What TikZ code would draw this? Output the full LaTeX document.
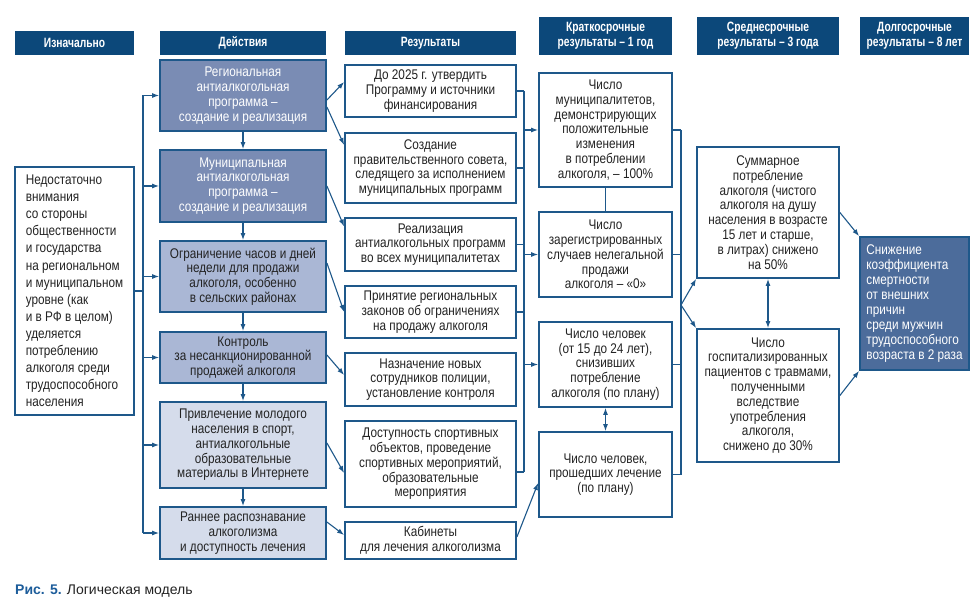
\documentclass[tikz,border=0pt]{standalone}
\usepackage{fontspec}
\setmainfont{Liberation Sans}[FakeStretch=0.84]
\newfontfamily\hdrfam{Liberation Sans}[FakeStretch=0.76]
\newfontfamily\capfam{Liberation Sans}
\usetikzlibrary{arrows.meta,calc}
\definecolor{hdrblue}{RGB}{12,72,122}
\definecolor{bdr}{RGB}{30,88,138}
\definecolor{acta}{RGB}{122,140,180}
\definecolor{actb}{RGB}{170,183,213}
\definecolor{actc}{RGB}{213,220,235}
\definecolor{ltblue}{RGB}{76,108,155}
\definecolor{txt}{RGB}{35,35,35}
\definecolor{capblue}{RGB}{29,93,155}
\newcommand\bodyfont{\fontsize{14}{14.8}\selectfont}
\newcommand\leftfont{\fontsize{14}{17.1}\selectfont}
\newcommand\ltfont{\fontsize{14}{15}\selectfont}
\newcommand\hdrfont{\hdrfam\bfseries\fontsize{13.5}{14.7}\selectfont}
\newcommand\mybox[7]{\node[#1, minimum width={(#5)-(#3)}, minimum height={(#6)-(#4)}] (#2) at ({((#3)+(#5))/2},{((#4)+(#6))/2}) {#7};}
\tikzset{
 base/.style={draw=bdr, line width=1.8pt, align=center, inner sep=0pt, text=txt, font=\bodyfont},
 wbox/.style={base, fill=white},
 abox/.style={base, fill=acta, text=white},
 bbox/.style={base, fill=actb},
 cbox/.style={base, fill=actc},
 ltbox/.style={base, fill=ltblue, text=white, align=left, font=\ltfont},
 lbox/.style={base, fill=white, align=left, font=\leftfont},
 hdr/.style={fill=hdrblue, text=white, align=center, inner sep=0pt, font=\hdrfont},
 conn/.style={draw=bdr, line width=1.1pt},
 arr/.style={conn, -{Latex[length=7pt,width=5pt]}},
 darr/.style={conn, {Latex[length=7pt,width=5pt]}-{Latex[length=7pt,width=5pt]}},
}
\begin{document}
\begin{tikzpicture}[x=1pt,y=-1pt]
\fill[white] (0,0) rectangle (980,609);
\useasboundingbox (0,0) rectangle (980,609);
% headers
\mybox{hdr}{h1}{15}{31}{134}{55}{Изначально}
\mybox{hdr}{h2}{160}{31}{326}{55}{Действия}
\mybox{hdr}{h3}{345}{31}{516}{55}{Результаты}
\mybox{hdr}{h4}{539}{17}{672}{55}{Краткосрочные\\результаты – 1 год}
\mybox{hdr}{h5}{697}{17}{839}{55}{Среднесрочные\\результаты – 3 года}
\mybox{hdr}{h6}{860}{17}{969}{55}{Долгосрочные\\результаты – 8 лет}
% left
\mybox{lbox}{L}{15}{167}{134}{415}{Недостаточно\\внимания\\со стороны\\общественности\\и государства\\на региональном\\и муниципальном\\уровне (как\\и в РФ в целом)\\уделяется\\потреблению\\алкоголя среди\\трудоспособного\\населения}
% actions
\mybox{abox}{a1}{160}{60}{326}{131}{Региональная\\антиалкогольная\\программа –\\создание и реализация}
\mybox{abox}{a2}{160}{150}{326}{222}{Муниципальная\\антиалкогольная\\программа –\\создание и реализация}
\mybox{bbox}{a3}{160}{241}{326}{312}{Ограничение часов и дней\\недели для продажи\\алкоголя, особенно\\в сельских районах}
\mybox{bbox}{a4}{160}{332}{326}{383}{Контроль\\за несанкционированной\\продажей алкоголя}
\mybox{cbox}{a5}{160}{402}{326}{488}{Привлечение молодого\\населения в спорт,\\антиалкогольные\\образовательные\\материалы в Интернете}
\mybox{cbox}{a6}{160}{507}{326}{559}{Раннее распознавание\\алкоголизма\\и доступность лечения}
% results
\mybox{wbox}{r1}{345}{65}{516}{117}{До 2025 г. утвердить\\Программу и источники\\финансирования}
\mybox{wbox}{r2}{345}{133}{516}{203}{Создание\\правительственного совета,\\следящего за исполнением\\муниципальных программ}
\mybox{wbox}{r3}{345}{218}{516}{271}{Реализация\\антиалкогольных программ\\во всех муниципалитетах}
\mybox{wbox}{r4}{345}{286}{516}{338}{Принятие региональных\\законов об ограничениях\\на продажу алкоголя}
\mybox{wbox}{r5}{345}{353}{516}{406}{Назначение новых\\сотрудников полиции,\\установление контроля}
\mybox{wbox}{r6}{345}{421}{516}{507}{Доступность спортивных\\объектов, проведение\\спортивных мероприятий,\\образовательные\\мероприятия}
\mybox{wbox}{r7}{345}{522}{516}{559}{Кабинеты\\для лечения алкоголизма}
% short term
\mybox{wbox}{s1}{539}{73}{672}{187}{Число\\муниципалитетов,\\демонстрирующих\\положительные\\изменения\\в потреблении\\алкоголя, – 100\%}
\mybox{wbox}{s2}{539}{212}{672}{297}{Число\\зарегистрированных\\случаев нелегальной\\продажи\\алкоголя – «0»}
\mybox{wbox}{s3}{539}{322}{672}{407}{Число человек\\(от 15 до 24 лет),\\снизивших\\потребление\\алкоголя (по плану)}
\mybox{wbox}{s4}{539}{432}{672}{517}{Число человек,\\прошедших лечение\\(по плану)}
% mid term
\mybox{wbox}{m1}{697}{147}{839}{278}{Суммарное\\потребление\\алкоголя (чистого\\алкоголя на душу\\населения в возрасте\\15 лет и старше,\\в литрах) снижено\\на 50\%}
\mybox{wbox}{m2}{697}{329}{839}{462}{Число\\госпитализированных\\пациентов с травмами,\\полученными\\вследствие\\употребления\\алкоголя,\\снижено до 30\%}
% long term
\mybox{ltbox}{lt}{860}{237}{969}{370}{Снижение\\коэффициента\\смертности\\от внешних\\причин\\среди мужчин\\трудоспособного\\возраста в 2 раза}
% left trunk
\coordinate (tj) at (143,291);
\draw[conn] (L.east) -- (tj);
\draw[conn] (a1.west -| tj) -- (a6.west -| tj);
\foreach \n in {a1,a2,a3,a4,a5,a6} \draw[arr] (\n.west -| tj) -- (\n.west);
% vertical action arrows
\draw[arr] (a1.south) -- (a2.north);
\draw[arr] (a2.south) -- (a3.north);
\draw[arr] (a3.south) -- (a4.north);
\draw[arr] (a4.south) -- (a5.north);
\draw[arr] (a5.south) -- (a6.north);
% actions to results
\draw[arr] ([yshift=-4.5pt]a1.east) -- ([yshift=9pt]r1.west);
\draw[arr] ([yshift=-11.5pt]a1.east) -- ([yshift=23pt]r2.west);
\draw[arr] (a2.east) -- ([yshift=18pt]r3.west);
\draw[arr] ([yshift=13.5pt]a3.east) -- (r4.west);
\draw[arr] ([yshift=2.5pt]a4.east) -- ([yshift=4.5pt]r5.west);
\draw[arr] ([yshift=2pt]a5.east) -- ([yshift=-9pt]r6.west);
\draw[arr] ([yshift=11pt]a6.east) -- ([yshift=5.5pt]r7.west);
% results bus
\coordinate (bx) at (524,0);
\foreach \n in {r1,r2,r3,r4} \draw[conn] (\n.east) -- (\n.east -| bx);
\coordinate (r6s) at ([yshift=-8pt]r6.east);
\draw[conn] (r6s) -- (r6s -| bx);
\draw[conn] (r1.east -| bx) -- (r6s -| bx);
\foreach \n in {s1,s2,s3} \draw[arr] (\n.west -| bx) -- (\n.west);
\draw[arr] ([yshift=3.5pt]r7.east) -- ([yshift=-8.5pt]s4.west);
% short term links
\draw[conn] (s1.south) -- (s2.north);
\draw[darr] (s3.south) -- (s4.north);
% short-term bus
\coordinate (bx2) at (681,0);
\foreach \n in {s1,s2,s3,s4} \draw[conn] (\n.east) -- (\n.east -| bx2);
\draw[conn] (s1.east -| bx2) -- (s4.east -| bx2);
\coordinate (jn) at (681,305);
\draw[arr] (jn) -- (m1.south west);
\draw[arr] (jn) -- (m2.north west);
\draw[darr] (m1.south) -- (m2.north);
\draw[arr] (m1.east) -- (lt.north west);
\draw[arr] (m2.east) -- (lt.south west);
% caption
\node[anchor=base west, inner sep=0pt, font=\capfam\fontsize{14}{16}\selectfont, text=txt] (cap) at (15,594) {\textcolor{capblue}{\bfseries Рис. 5.} Логическая модель};
\end{tikzpicture}
\end{document}
